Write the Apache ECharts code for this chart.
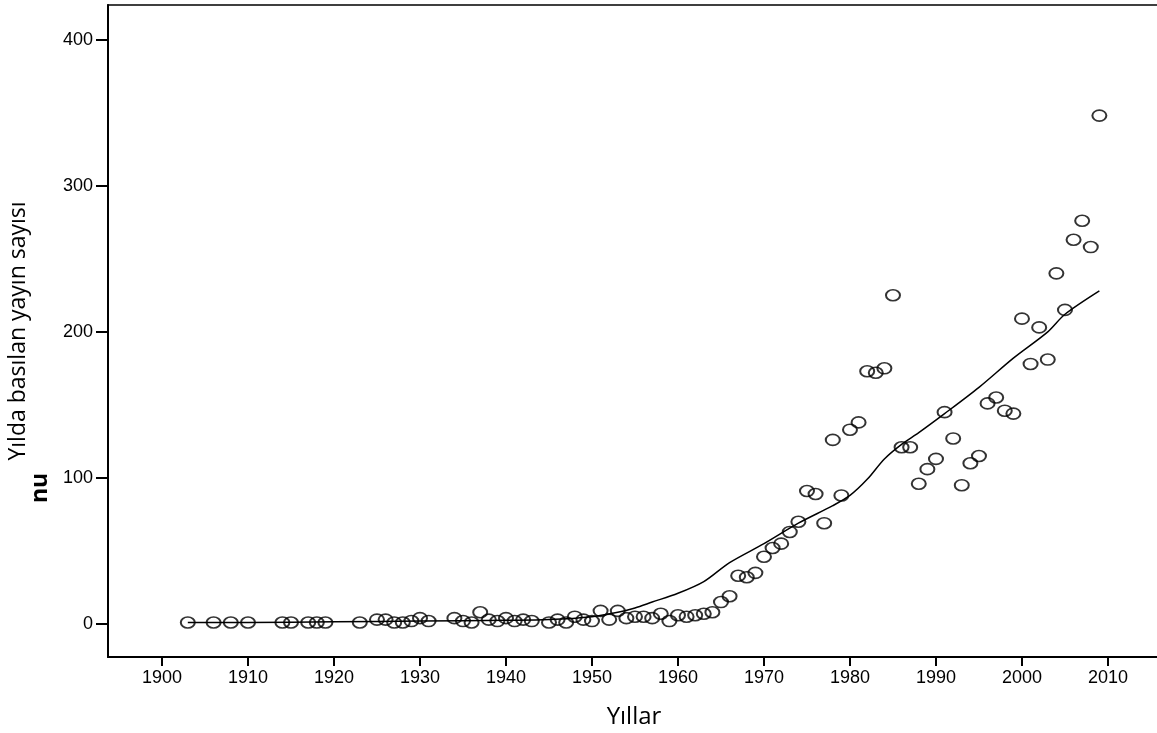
<!DOCTYPE html>
<html>
<head>
<meta charset="utf-8">
<script src="https://cdn.jsdelivr.net/npm/echarts@6/dist/echarts.min.js"></script>
<style>html,body{margin:0;padding:0;background:#fff}#c{width:1157px;height:733px}</style>
</head>
<body>
<div id="c"></div>
<script>
const years = [1903,1906,1908,1910,1914,1915,1917,1918,1919,1923,1925,1926,1927,1928,1929,1930,1931,1934,1935,1936,1937,1938,1939,1940,1941,1942,1943,1945,1946,1947,1948,1949,1950,1951,1952,1953,1954,1955,1956,1957,1958,1959,1960,1961,1962,1963,1964,1965,1966,1967,1968,1969,1970,1971,1972,1973,1974,1975,1976,1977,1978,1979,1980,1981,1982,1983,1984,1985,1986,1987,1988,1989,1990,1991,1992,1993,1994,1995,1996,1997,1998,1999,2000,2001,2002,2003,2004,2005,2006,2007,2008,2009];
const counts = [1,1,1,1,1,1,1,1,1,1,3,3,1,1,2,4,2,4,2,1,8,3,2,4,2,3,2,1,3,1,5,3,2,9,3,9,4,5,5,4,7,2,6,5,6,7,8,15,19,33,32,35,46,52,55,63,70,91,89,69,126,88,133,138,173,172,175,225,121,121,96,106,113,145,127,95,110,115,151,155,146,144,209,178,203,181,240,215,263,276,258,348];
const fitYears = [1903,1910,1920,1930,1940,1945,1950,1953,1955,1957,1960,1963,1966,1970,1974,1978,1980,1982,1984,1986,1988,1991,1995,1999,2003,2005,2009];
const fitValues = [1,1,1.5,2,2.5,3,5,8,11,15,21,29,42,55,69,81,88,99,113,123,131,144,162,182,200,212,228];
const xTicks = [1900,1910,1920,1930,1940,1950,1960,1970,1980,1990,2000,2010];
const yTicks = [0,100,200,300,400];
const xTitle = 'Yıllar';
const yTitle = 'Yılda basılan yayın sayısı';

const chart = echarts.init(document.getElementById('c'));
chart.setOption({
  animation: false,
  backgroundColor: '#fff',
  grid: {left: 108, top: 5, right: -3, bottom: 76, show: true, borderColor: '#000', borderWidth: 1.5, backgroundColor: 'transparent', containLabel: false, outerBoundsMode: 'none'},
  xAxis: {
    type: 'value', min: 1893.72, max: 2016.05,
    name: xTitle, nameLocation: 'middle', nameGap: 48,
    nameTextStyle: {fontFamily: 'Open Sans', fontSize: 24, color: '#000'},
    axisLine: {show: true, onZero: false, lineStyle: {color: '#000', width: 2}},
    axisTick: {show: true, length: 9, lineStyle: {color: '#000', width: 2}, customValues: xTicks},
    axisLabel: {customValues: xTicks, formatter: v => String(v), fontFamily: 'Liberation Sans', fontSize: 18, color: '#000', margin: 12},
    splitLine: {show: false}
  },
  yAxis: {
    type: 'value', min: -22.6, max: 423.7,
    name: yTitle, nameLocation: 'middle', nameGap: 78,
    nameTextStyle: {fontFamily: 'Open Sans', fontSize: 23, color: '#000'},
    axisLine: {show: true, onZero: false, lineStyle: {color: '#000', width: 2}},
    axisTick: {show: true, length: 12, lineStyle: {color: '#000', width: 2}, customValues: yTicks},
    axisLabel: {customValues: yTicks, formatter: v => String(v), fontFamily: 'Liberation Sans', fontSize: 18, color: '#000', margin: 15},
    splitLine: {show: false}
  },
  graphic: [{
    type: 'text', x: 40, y: 488, rotation: Math.PI / 2,
    style: {text: 'nu', fontFamily: 'Open Sans', fontWeight: 'bold', fontSize: 23, fill: '#000', textAlign: 'center', textVerticalAlign: 'middle'}
  }],
  series: [{
    type: 'line',
    data: fitYears.map((y, i) => [y, fitValues[i]]),
    smooth: 0.3, showSymbol: false, symbol: 'none',
    lineStyle: {color: '#000', width: 1.5}, z: 2
  }, {
    type: 'scatter',
    data: years.map((y, i) => [y, counts[i]]),
    symbol: 'circle', symbolSize: [14, 11],
    itemStyle: {color: 'rgba(0,0,0,0)', borderColor: '#000', borderWidth: 1.8}, z: 3
  }]
});
</script>
</body>
</html>
